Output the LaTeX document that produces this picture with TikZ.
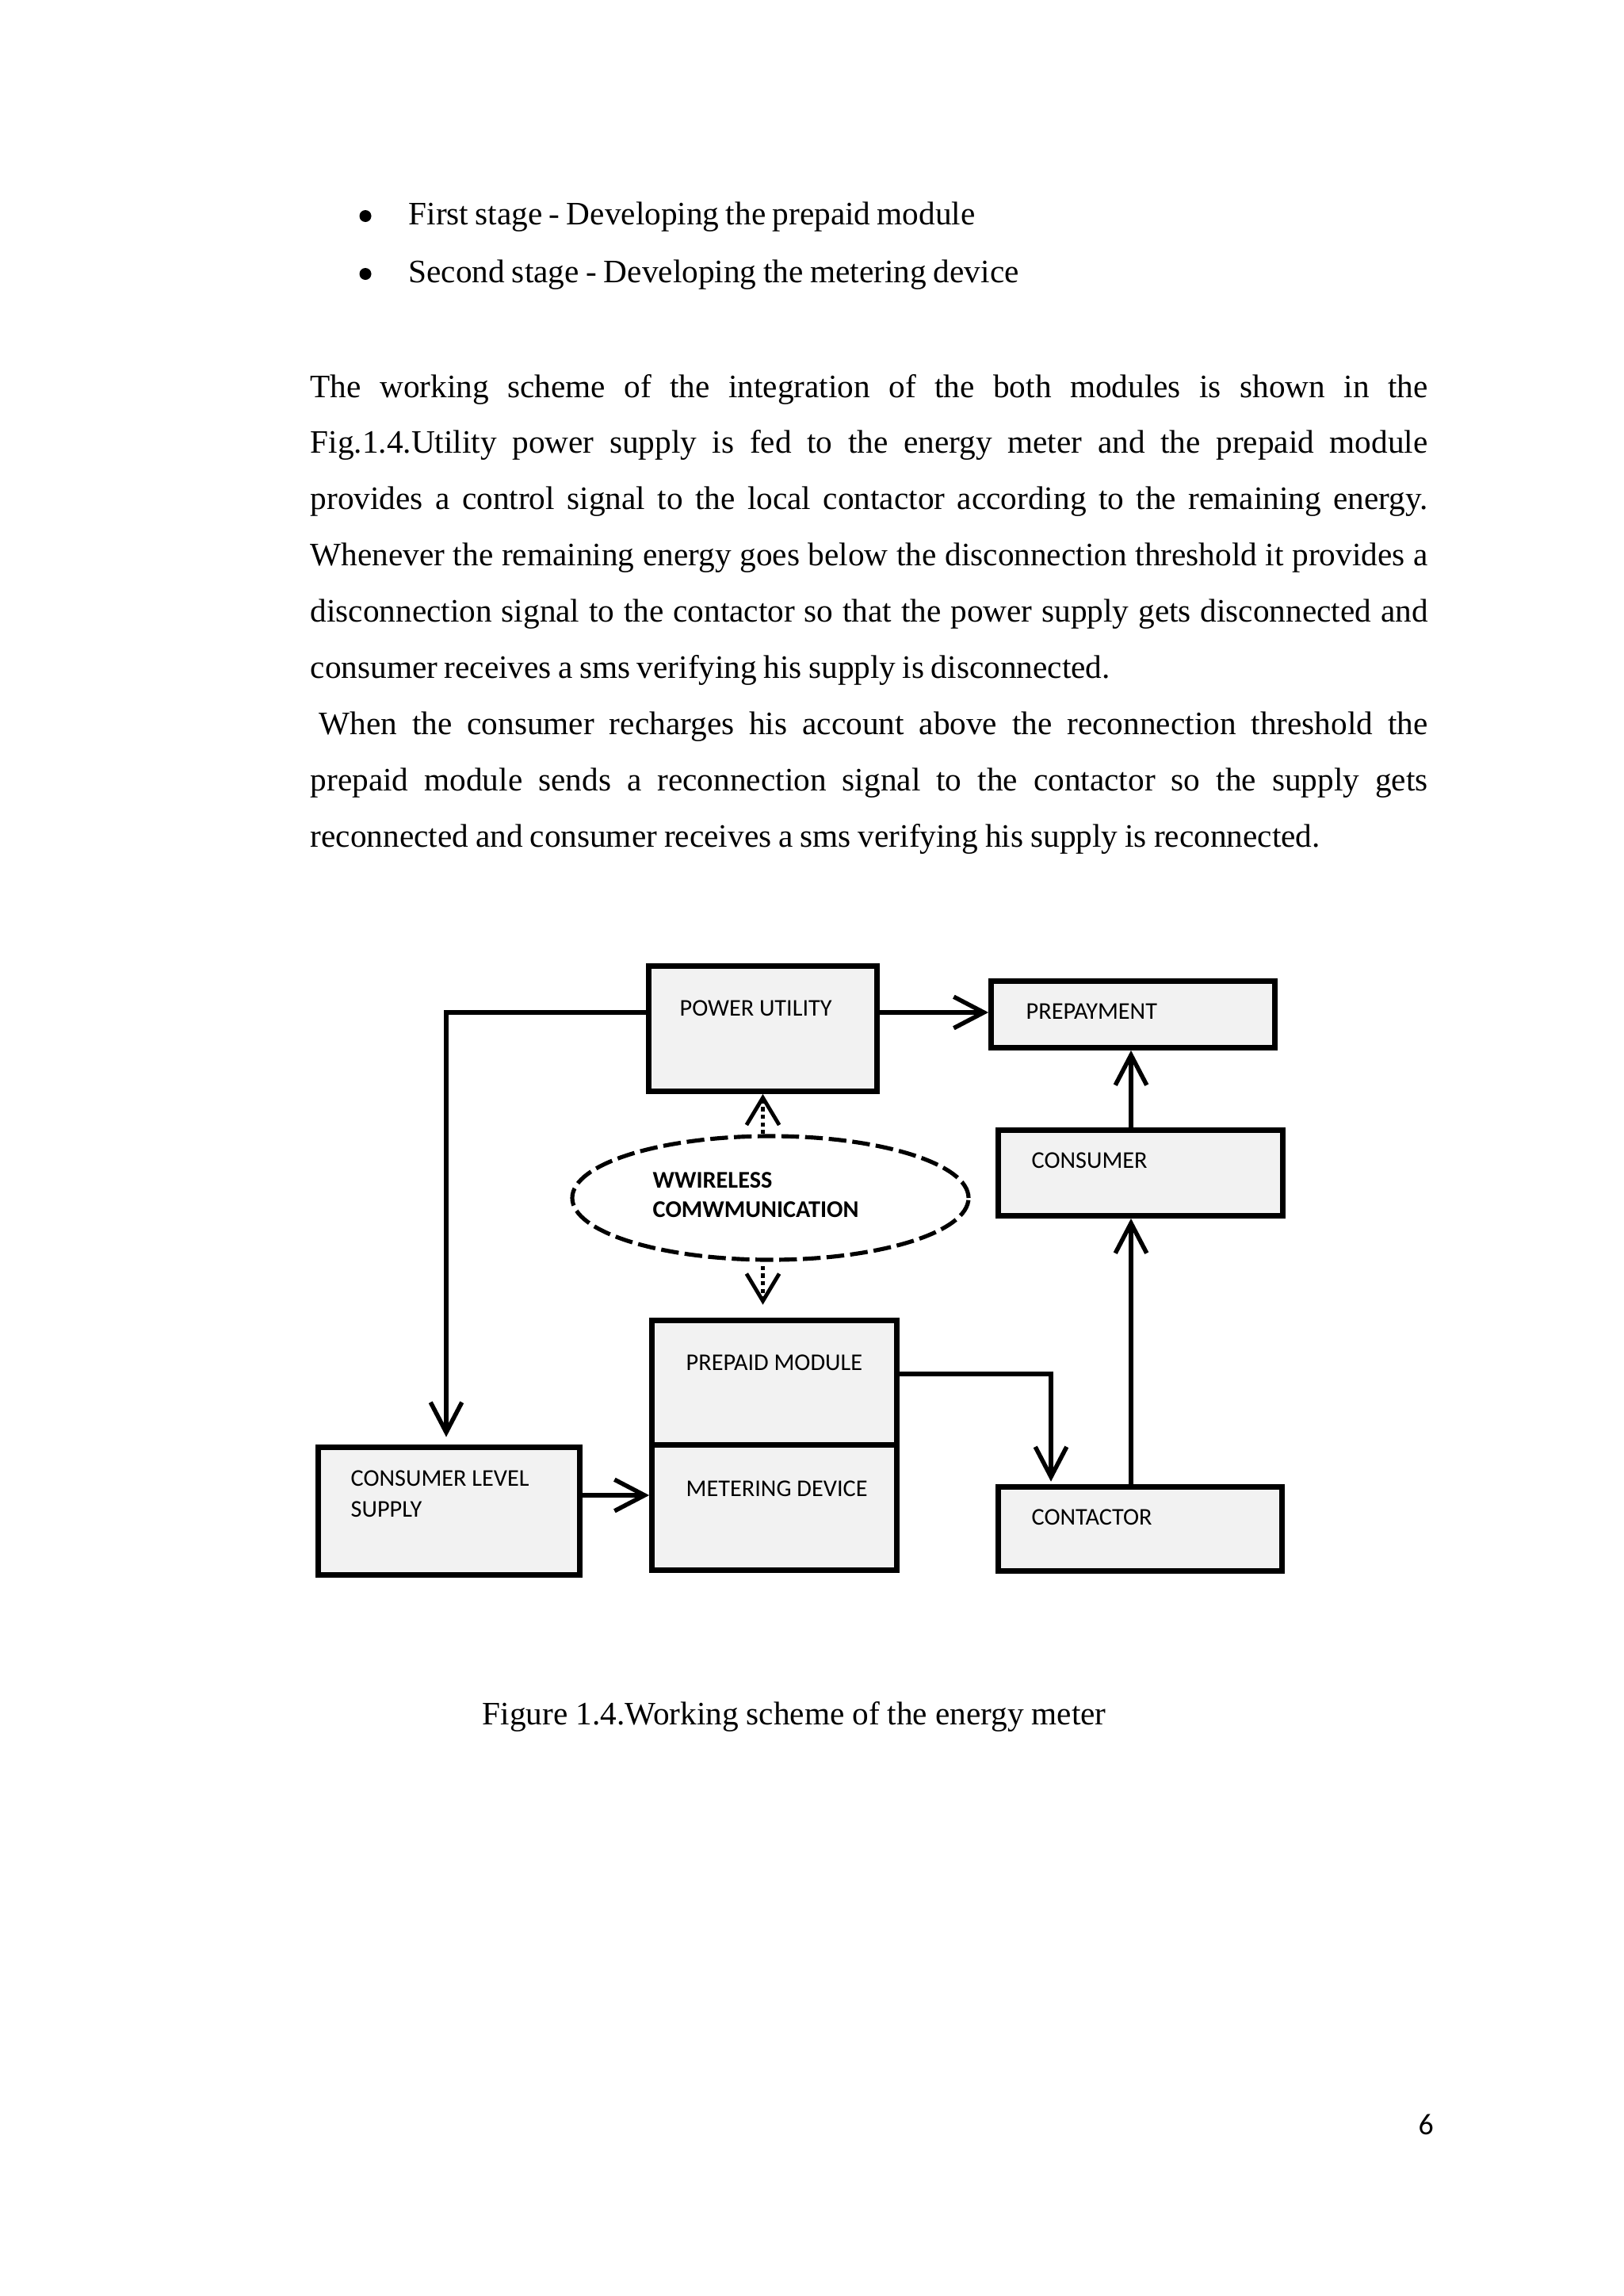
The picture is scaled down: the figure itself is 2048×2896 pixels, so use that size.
\documentclass[tikz,border=0pt]{standalone}
\usepackage{fontspec}
\setmainfont{Liberation Serif}
\newfontfamily\calibri{Carlito}
\usetikzlibrary{arrows.meta,shapes.geometric}
\definecolor{boxfill}{HTML}{F2F2F2}
\def\PX{*0.29067pt}
\begin{document}
\begin{tikzpicture}[x=0.29067pt,y=-0.29067pt,
  blk/.style={draw=black, line width=1.95pt, fill=boxfill, rectangle, inner sep=0pt},
  lbl/.style={anchor=base west, inner sep=0pt, font=\calibri\fontsize{8.8}{10}\selectfont},
  blbl/.style={lbl, font=\calibri\bfseries\fontsize{8.8}{10}\selectfont},
  body/.style={anchor=base west, inner sep=0pt, font=\fontsize{12}{14}\selectfont},
  bull/.style={circle, fill=black, inner sep=0pt, minimum size=15\PX},
  conn/.style={line width=1.95pt, -{Straight Barb[length=11pt,width=11.5pt,line width=1.6pt]}},
  wconn/.style={line width=1.5pt, dash pattern=on 1.5pt off 1.3pt, -{Straight Barb[length=10pt,width=12pt,line width=1.4pt]}},
]
\fill[white] (0,0) rectangle (2048,2896);
\useasboundingbox (0,0) rectangle (2048,2896);

% ---- body text ----
\node[bull] (b1) at (461,272.5) {};
\node[body] (l1) at (515,283) {\makebox[207.8pt][s]{First stage - Developing the prepaid module}};
\node[bull] (b2) at (461,345.5) {};
\node[body] (l2) at (515,356) {\makebox[223.8pt][s]{Second stage - Developing the metering device}};

\node[body] (p1) at (391,501.0) {\makebox[409.8pt][s]{The working scheme of the integration of the both modules is shown in the}};
\node[body] (p2) at (391,571.9) {\makebox[409.8pt][s]{Fig.1.4.Utility power supply is fed to the energy meter and the prepaid module}};
\node[body] (p3) at (391,642.8) {\makebox[409.8pt][s]{provides a control signal to the local contactor according to the remaining energy.}};
\node[body] (p4) at (391,713.7) {\makebox[409.8pt][s]{Whenever the remaining energy goes below the disconnection threshold it provides a}};
\node[body] (p5) at (391,784.6) {\makebox[409.8pt][s]{disconnection signal to the contactor so that the power supply gets disconnected and}};
\node[body] (p6) at (391,855.5) {\makebox[293.3pt][s]{consumer receives a sms verifying his supply is disconnected.}};
\node[body] (p7) at (402,926.4) {\makebox[406.6pt][s]{When the consumer recharges his account above the reconnection threshold the}};
\node[body] (p8) at (391,997.3) {\makebox[409.8pt][s]{prepaid module sends a reconnection signal to the contactor so the supply gets}};
\node[body] (p9) at (391,1068.2) {\makebox[370.3pt][s]{reconnected and consumer receives a sms verifying his supply is reconnected.}};

% ---- diagram boxes ----
\node[blk, minimum width=288\PX, minimum height=158\PX] (pu) at (962.5,1297.5) {};
\node[blk, minimum width=358\PX, minimum height=84\PX] (pp) at (1429.5,1279.5) {};
\node[blk, minimum width=359\PX, minimum height=108\PX] (cs) at (1439,1479.5) {};
\node[blk, minimum width=358\PX, minimum height=106\PX] (ct) at (1438.5,1928.5) {};
\node[blk, minimum width=309\PX, minimum height=157\PX] (pm) at (977,1744) {};
\node[blk, minimum width=309\PX, minimum height=158\PX] (md) at (977,1901.5) {};
\node[blk, minimum width=330\PX, minimum height=161\PX] (cls) at (566.5,1906) {};
\node[draw=black, line width=1.5pt, dash pattern=on 6.5pt off 2.2pt, ellipse, inner sep=0pt,
      minimum width=500\PX, minimum height=156\PX] (el) at (972,1511) {};

% ---- labels ----
\node[lbl] (tpu) at (857,1281) {POWER UTILITY};
\node[lbl] (tpp) at (1294,1285) {PREPAYMENT};
\node[lbl] (tcs) at (1301,1473) {CONSUMER};
\node[blbl] (tel1) at (823,1498) {WWIRELESS};
\node[blbl] (tel2) at (823,1535) {COMWMUNICATION};
\node[lbl] (tpm) at (865,1728) {PREPAID MODULE};
\node[lbl] (tmd) at (865,1887) {METERING DEVICE};
\node[lbl] (tcls1) at (442,1874) {CONSUMER LEVEL};
\node[lbl] (tcls2) at (442,1913) {SUPPLY};
\node[lbl] (tct) at (1301,1923) {CONTACTOR};

% ---- connectors ----
\coordinate (ya) at (0,1277);
\coordinate (yb) at (0,1886);
\coordinate (kp) at (1326,1733);
\coordinate (xv) at (1427,0);
\coordinate (xl) at (563,0);
\draw[conn] (pu.east |- ya) -- (pp.west |- ya);
\draw[conn, shorten >=2.8pt] (pu.west |- ya) -- (xl |- ya) -- (xl |- cls.north);
\draw[conn] (cls.east |- yb) -- (md.west |- yb);
\draw[conn, shorten >=1pt] (pm.east |- kp) -- (kp) -- (kp |- ct.north);
\draw[conn] (xv |- ct.north) -- (xv |- cs.south);
\draw[conn] (xv |- cs.north) -- (xv |- pp.south);
\draw[wconn] (pu.south |- el.north) -- (pu.south);
\draw[wconn, shorten >=4.8pt, shorten <=1.5pt] (pu.south |- el.south) -- (pu.south |- pm.north);

% ---- caption and page number ----
\node[body] (cap) at (608,2175) {\makebox[228.7pt][s]{Figure 1.4.Working scheme of the energy meter}};
\node[anchor=base west, inner sep=0pt, font=\calibri\fontsize{11}{13}\selectfont] (pg) at (1789,2692) {6};
\end{tikzpicture}
\end{document}
